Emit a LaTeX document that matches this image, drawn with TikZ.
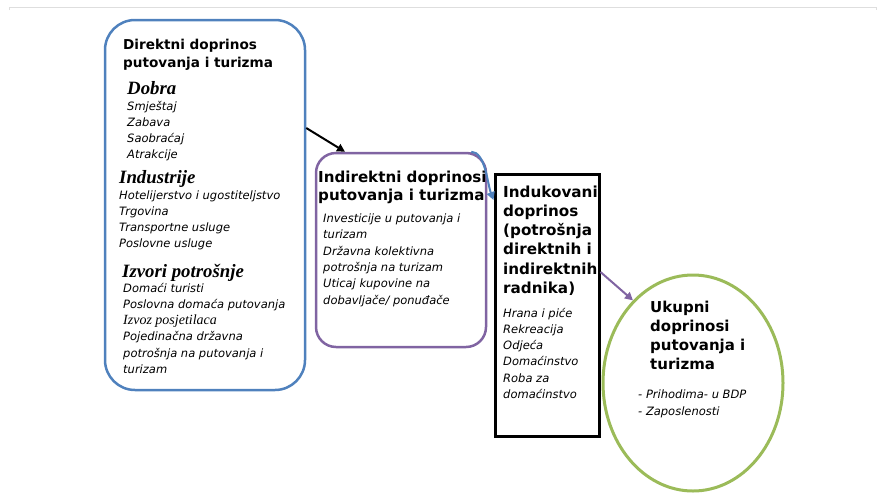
\documentclass[tikz,border=0pt]{standalone}
\usepackage{fontspec}
\setmainfont{DejaVu Sans}
\newfontfamily\tnr{Liberation Serif}
\usetikzlibrary{arrows.meta,shapes.geometric}
\definecolor{cblue}{RGB}{79,129,189}
\definecolor{cpurple}{RGB}{128,100,162}
\definecolor{cgreen}{RGB}{155,187,89}
\definecolor{cframe}{RGB}{222,222,222}
\newcommand\tstrut{\rule{0pt}{16pt}}
\tikzset{
  boxshape/.style={draw, inner sep=0pt, line width=2.5pt},
  blk/.style={inner sep=0pt, anchor=north west, align=left},
  one/.style={inner sep=0pt, anchor=base west},
  hdA/.style={font=\fontsize{13.6}{18}\selectfont\bfseries},
  hdB/.style={font=\fontsize{15.1}{18.5}\selectfont\bfseries},
  hdC/.style={font=\fontsize{15.2}{19.2}\selectfont\bfseries},
  hdD/.style={font=\fontsize{15}{19}\selectfont\bfseries},
  sub/.style={font=\fontsize{18.8}{20}\selectfont\tnr\bfseries\itshape},
  itm/.style={font=\fontsize{11.5}{16.2}\selectfont\itshape},
  arr/.style={line width=2pt, -{Triangle[length=8pt,width=8pt]}}
}
\begin{document}
\begin{tikzpicture}[x=1pt,y=-1pt]
\useasboundingbox (0,0) rectangle (877,501);
\draw[cframe, line width=1pt] (9,10) -- (9,7) -- (876,7) -- (876,10);

% boxes
\node[boxshape, cblue, rounded corners=30pt, minimum width=200pt, minimum height=370pt] (blue) at (205,205) {};
\node[boxshape, cpurple, rounded corners=20pt, minimum width=170pt, minimum height=194pt] (purple) at (401,250) {};
\node[boxshape, black, line width=3pt, minimum width=104pt, minimum height=262pt] (blackbox) at (547,305) {};
\node[boxshape, cgreen, line width=3pt, ellipse, minimum width=180pt, minimum height=216pt] (ell) at (693,383) {};

% blue box text
\node[blk, hdA] (hA) at (123,33) {\tstrut Direktni doprinos\\putovanja i turizma};
\node[one, sub] (sDobra) at (127,94) {Dobra};
\node[blk, itm] (iA) at (127,94) {\tstrut Smještaj\\Zabava\\Saobraćaj\\Atrakcije};
\node[one, sub] (sInd) at (119,183) {Industrije};
\node[blk, itm] (iB) at (119,183) {\tstrut Hotelijerstvo i ugostiteljstvo\\Trgovina\\Transportne usluge\\Poslovne usluge};
\node[one, sub] (sIzv) at (122,277) {Izvori potrošnje};
\node[blk, itm] (iC) at (123,276) {\tstrut Domaći turisti\\Poslovna domaća putovanja\\{\tnr\fontsize{14}{16.2}\selectfont Izvoz posjetilaca}\\Pojedinačna državna\\potrošnja na putovanja i\\turizam};

% purple box text
\node[blk, hdB] (hB) at (318,166) {\tstrut Indirektni doprinosi\\putovanja i turizma};
\node[blk, itm, font=\fontsize{11.5}{16.4}\selectfont\itshape] (iD) at (323,206) {\tstrut Investicije u putovanja i\\turizam\\Državna kolektivna\\potrošnja na turizam\\Uticaj kupovine na\\dobavljače/ ponuđače};

% black box text
\node[blk, hdC] (hC) at (503,181) {\tstrut Indukovani\\doprinos\\(potrošnja\\direktnih i\\indirektnih\\radnika)};
\node[blk, itm] (iE) at (503,301) {\tstrut Hrana i piće\\Rekreacija\\Odjeća\\Domaćinstvo\\Roba za\\domaćinstvo};

% ellipse text
\node[blk, hdD] (hD) at (650,296) {\tstrut Ukupni\\doprinosi\\putovanja i\\turizma};
\node[blk, itm, font=\fontsize{11.5}{17}\selectfont\itshape] (iF) at (638,382) {\tstrut - Prihodima- u BDP\\- Zaposlenosti};

% connectors
\draw[arr, black] ([yshift=77pt]blue.east) -- ([xshift=-56pt]purple.north);
\draw[arr, cblue] ([xshift=-16pt]purple.north east) .. controls +(14,0) and +(-6,-16) .. ([yshift=105pt]blackbox.west);
\draw[arr, cpurple] ([yshift=33pt]blackbox.east) -- (ell.126);
\end{tikzpicture}
\end{document}
